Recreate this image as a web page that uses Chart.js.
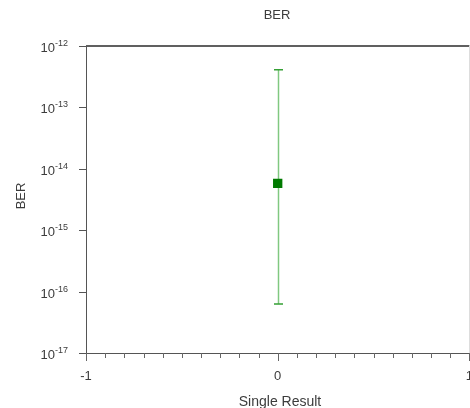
<!DOCTYPE html>
<html>
<head>
<meta charset="utf-8">
<script src="https://cdn.jsdelivr.net/npm/chart.js@4/dist/chart.umd.min.js"></script>
<style>
    html, body { margin: 0; padding: 0; background: #fff; overflow: hidden; }
    #wrap { width: 470px; height: 408px; overflow: hidden; position: relative; }
    #box { width: 476px; height: 408px; }
</style>
</head>
<body>
<div id="wrap"><div id="box"><canvas id="berChart"></canvas></div></div>
<script>
// Data
const categories = [0];                 // Single Result
const berValues = [5.8e-15];            // measured BER
const berUpper = [4.1e-13];             // error bar top
const berLower = [6.3e-17];             // error bar bottom
const yTickValues = [1e-17, 1e-16, 1e-15, 1e-14, 1e-13, 1e-12];
const xTickValues = [-1, -0.9, -0.8, -0.7, -0.6, -0.5, -0.4, -0.3, -0.2, -0.1, 0,
                     0.1, 0.2, 0.3, 0.4, 0.5, 0.6, 0.7, 0.8, 0.9, 1];
const xLabelValues = [-1, 0, 1];

const FONT = '"Liberation Sans", Arial, sans-serif';
const TEXT = '#3c3c3c';

// error bars go under the marker
const errorBarPlugin = {
    id: 'errorBars',
    beforeDatasetsDraw(chart) {
        const ctx = chart.ctx;
        const xs = chart.scales.x;
        const ys = chart.scales.y;
        ctx.save();
        categories.forEach((c, i) => {
            const px = Math.round(xs.getPixelForValue(c)) + 0.5;
            const yTop = ys.getPixelForValue(berUpper[i]);
            const yBot = ys.getPixelForValue(berLower[i]);
            ctx.strokeStyle = '#80c880';
            ctx.lineWidth = 1.5;
            ctx.beginPath();
            ctx.moveTo(px, yTop);
            ctx.lineTo(px, yBot);
            ctx.stroke();
            ctx.strokeStyle = '#35a035';
            ctx.lineWidth = 1.5;
            ctx.beginPath();
            ctx.moveTo(px - 4.5, yTop);
            ctx.lineTo(px + 4.5, yTop);
            ctx.moveTo(px - 4.5, yBot);
            ctx.lineTo(px + 4.5, yBot);
            ctx.stroke();
        });
        ctx.restore();
    }
};

// axes, ticks and labels
const axesPlugin = {
    id: 'axesPlugin',
    afterDraw(chart) {
        const ctx = chart.ctx;
        const area = chart.chartArea;
        const xs = chart.scales.x;
        const ys = chart.scales.y;
        ctx.save();

        // top border
        ctx.strokeStyle = '#606060';
        ctx.lineWidth = 2;
        ctx.beginPath();
        ctx.moveTo(area.left, area.top);
        ctx.lineTo(area.right, area.top);
        ctx.stroke();

        // right border (faint)
        ctx.strokeStyle = '#ddd';
        ctx.lineWidth = 1;
        ctx.beginPath();
        ctx.moveTo(469.5, area.top);
        ctx.lineTo(469.5, area.bottom);
        ctx.stroke();

        // left & bottom axis
        ctx.strokeStyle = '#555';
        ctx.lineWidth = 1;
        ctx.beginPath();
        ctx.moveTo(area.left + 0.5, area.top);
        ctx.lineTo(area.left + 0.5, area.bottom + 8);
        ctx.moveTo(area.left, area.bottom + 0.5);
        ctx.lineTo(area.right, area.bottom + 0.5);
        ctx.stroke();

        // x ticks
        ctx.strokeStyle = '#666';
        xTickValues.forEach(v => {
            const px = Math.round(xs.getPixelForValue(v)) + 0.5;
            const major = xLabelValues.some(m => Math.abs(m - v) < 1e-9);
            ctx.beginPath();
            ctx.moveTo(px, area.bottom);
            ctx.lineTo(px, area.bottom + (major ? 8 : 5));
            ctx.stroke();
        });

        // x labels
        ctx.fillStyle = TEXT;
        ctx.font = '13px ' + FONT;
        ctx.textAlign = 'center';
        ctx.textBaseline = 'middle';
        xLabelValues.forEach(v => {
            ctx.fillText(String(v), xs.getPixelForValue(v), area.bottom + 23);
        });

        // y ticks and labels (10 with superscript exponent)
        yTickValues.forEach(v => {
            const py = Math.round(ys.getPixelForValue(v)) + 0.5;
            ctx.strokeStyle = '#555';
            ctx.beginPath();
            ctx.moveTo(area.left - 7, py);
            ctx.lineTo(area.left, py);
            ctx.stroke();
            const exp = String(Math.round(Math.log10(v)));
            const right = area.left - 18;
            ctx.font = '9px ' + FONT;
            const ew = ctx.measureText(exp).width;
            ctx.textAlign = 'left';
            ctx.textBaseline = 'alphabetic';
            ctx.fillText(exp, right - ew, py - 1);
            ctx.font = '13px ' + FONT;
            ctx.textAlign = 'right';
            ctx.fillText('10', right - ew, py + 5);
        });

        // titles
        ctx.fillStyle = TEXT;
        ctx.textAlign = 'center';
        ctx.textBaseline = 'middle';
        ctx.font = '13px ' + FONT;
        ctx.fillText('BER', 277, 15);
        ctx.font = '14px ' + FONT;
        ctx.fillText('Single Result', 280, 402);
        ctx.save();
        ctx.translate(21, 196);
        ctx.rotate(-Math.PI / 2);
        ctx.font = '13px ' + FONT;
        ctx.fillText('BER', 0, 0);
        ctx.restore();

        ctx.restore();
    }
};

new Chart(document.getElementById('berChart'), {
    type: 'scatter',
    data: {
        datasets: [{
            label: 'BER',
            data: categories.map((c, i) => ({ x: c, y: berValues[i] })),
            pointStyle: 'rect',
            pointRadius: 6.6,
            backgroundColor: '#007a00',
            borderColor: '#007a00',
            borderWidth: 0
        }]
    },
    options: {
        responsive: true,
        maintainAspectRatio: false,
        animation: false,
        layout: { padding: { left: 86, top: 46, right: 4, bottom: 55 } },
        plugins: {
            legend: { display: false },
            tooltip: { enabled: false }
        },
        scales: {
            x: { type: 'linear', min: -1, max: 1, display: false },
            y: { type: 'logarithmic', min: 1e-17, max: 1e-12, display: false }
        }
    },
    plugins: [errorBarPlugin, axesPlugin]
});
</script>
</body>
</html>
